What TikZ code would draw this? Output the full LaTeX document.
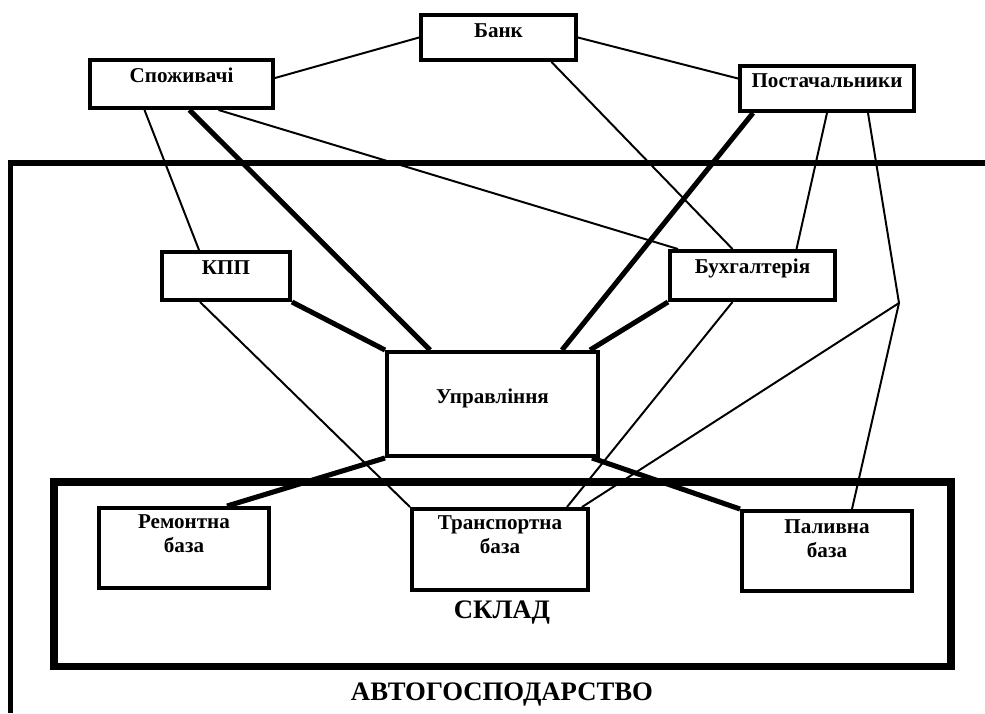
\documentclass[tikz,border=0pt]{standalone}
\usepackage{fontspec}
\setmainfont{Liberation Serif}
\usetikzlibrary{calc}
\begin{document}
\begin{tikzpicture}[x=0.025cm, y=-0.025cm,
      every node/.style={font=\fontsize{15}{16.4}\selectfont\bfseries, align=center, inner ysep=0pt},
      box/.style={draw, line width=2.8pt},
      link/.style={line width=1.4pt},
      mainlink/.style={line width=3.6pt},
      frame/.style={line width=5pt},
      caption/.style={font=\fontsize{19}{22}\selectfont\bfseries, anchor=base}]
    \useasboundingbox (0,0) rectangle (985,713);
    \draw[line width=4.2pt] (10.5,713) -- (10.5,163) -- (985,163);
    \draw[frame] (54,482) rectangle (951,666);
    \node[caption] (sklad) at (502,618) {СКЛАД};
    \node[caption] (avto) at (502,700) {АВТОГОСПОДАРСТВО};
    \node[box, minimum width=3.875cm, text height=0.55cm, text depth=0.575cm] (bank) at (498.5,37.5) {Банк};
    \node[box, minimum width=4.575cm, text height=0.55cm, text depth=0.65cm] (spoz) at (181.5,84) {Споживачі};
    \node[box, minimum width=4.35cm, text height=0.525cm, text depth=0.6cm] (post) at (827,88.5) {Постачальники};
    \node[box, minimum width=3.2cm, text height=0.55cm, text depth=0.65cm] (kpp) at (226,276) {КПП};
    \node[box, minimum width=4.125cm, text height=0.55cm, text depth=0.675cm] (buh) at (752.5,275.5) {Бухгалтерія};
    \node[box, minimum width=5.275cm, text height=1.275cm, text depth=1.325cm] (upr) at (492.5,404) {Управління};
    \node[box, minimum width=4.25cm, text height=1.1cm, text depth=0.9cm] (rem) at (184,548) {Ремонтна\\база};
    \node[box, minimum width=4.4cm, text height=1.1cm, text depth=0.925cm] (tr) at (500,549.5) {Транспортна\\база};
    \node[box, minimum width=4.25cm, text height=1.15cm, text depth=0.85cm] (pal) at (827,551) {Паливна\\база};
    \coordinate (knee) at (899,303);
    \draw[link] ($(spoz.east)+(0,-6)$) -- (bank.west);
    \draw[link] (bank.east) -- ($(post.west)+(0,-10)$);
    \draw[link] ($(bank.south)+(53,0)$) -- ($(buh.north)+(-20,0)$);
    \draw[link] ($(spoz.south)+(-37,0)$) -- ($(kpp.north)+(-27,0)$);
    \draw[link] ($(spoz.south)+(37,0)$) -- ($(buh.north west)+(10,0)$);
    \draw[link] ($(kpp.east)+(0,2)$) -- ($(kpp.east)+(0,2)$ -| buh.west);
    \draw[link] ($(kpp.south)+(-26,0)$) -- (tr.north west);
    \draw[link] ($(buh.south)+(-20,0)$) -- ($(tr.north east)+(-23,0)$);
    \draw[link] (post.south) -- ($(buh.north)+(44,0)$);
    \draw[link] ($(post.south)+(41,0)$) -- (knee) -- ($(tr.north east)+(-8,0)$);
    \draw[link] (knee) -- ($(pal.north)+(25,0)$);
    \draw[link] ($(rem.east)+(0,-22)$) -- ($(rem.east)+(0,-22)$ -| tr.west);
    \draw[link] ($(rem.east)+(0,15)$) -- ($(rem.east)+(0,15)$ -| tr.west);
    \draw[link] ($(tr.east)+(0,-28)$) -- ($(tr.east)+(0,-28)$ -| pal.west);
    \draw[link] ($(tr.east)+(0,12)$) -- ($(tr.east)+(0,12)$ -| pal.west);
    \draw[mainlink] ($(spoz.south)+(8,0)$) -- ($(upr.north west)+(45,0)$);
    \draw[mainlink] (kpp.south east) -- (upr.north west);
    \draw[mainlink] ($(post.south west)+(15,0)$) -- ($(upr.north east)+(-38,0)$);
    \draw[mainlink] (buh.south west) -- ($(upr.north east)+(-10,0)$);
    \draw[mainlink] (upr.south west) -- ($(rem.north)+(43,0)$);
    \draw[mainlink] ($(upr.south)+(-4,0)$) -- ($(upr.south)+(-4,0)$ |- tr.north);
    \draw[mainlink] ($(upr.south east)+(-8,0)$) -- (pal.north west);
\end{tikzpicture}
\end{document}
